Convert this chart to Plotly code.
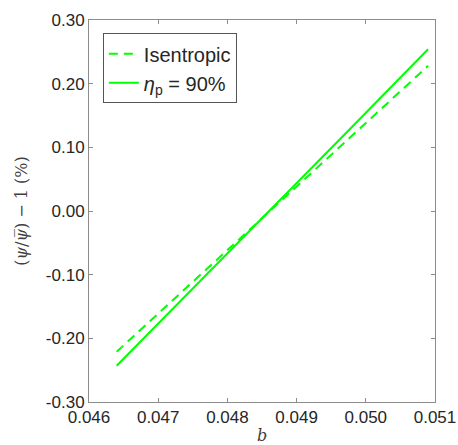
import plotly.graph_objects as go

b_vals = [0.0464, 0.0475, 0.0486, 0.0497, 0.0509]
isentropic = [-0.221, -0.111, -0.001, 0.108, 0.228]
eta90 = [-0.243, -0.122, 0.000, 0.121, 0.254]

x_ticks = [0.046, 0.047, 0.048, 0.049, 0.050, 0.051]
y_ticks = [-0.30, -0.20, -0.10, 0.00, 0.10, 0.20, 0.30]

green = "#00ff00"
fig = go.Figure()
fig.add_trace(go.Scatter(x=b_vals, y=isentropic, mode="lines", name="Isentropic",
                         line=dict(color=green, width=2, dash="9px,6px")))
fig.add_trace(go.Scatter(x=b_vals, y=eta90, mode="lines", name="<i>η</i><sub>p</sub> = 90%",
                         line=dict(color=green, width=2)))

axis_common = dict(showline=True, linecolor="#8c8c8c", linewidth=1, mirror="ticks",
                   ticks="inside", ticklen=4, tickcolor="#8c8c8c", showgrid=False,
                   zeroline=False, automargin=False,
                   tickfont=dict(family="Liberation Sans, Arial", size=17, color="#262626"))

fig.update_layout(
    width=458, height=445,
    margin=dict(l=89, r=23, t=20, b=43),
    paper_bgcolor="white", plot_bgcolor="white",
    showlegend=True,
    legend=dict(x=0.04, y=0.965, xanchor="left", yanchor="top",
                bordercolor="#555555", borderwidth=1, bgcolor="white",
                font=dict(family="Liberation Sans, Arial", size=20, color="#262626"),
                tracegroupgap=0, itemwidth=30),
    xaxis=dict(range=[0.046, 0.051], tickvals=x_ticks,
               ticktext=[f"{v:.3f}" for v in x_ticks],
               title=dict(text="<i>b</i>", standoff=12,
                          font=dict(family="DejaVu Serif", size=16, color="#404040")),
               **axis_common),
    yaxis=dict(range=[-0.30, 0.30], tickvals=y_ticks,
               ticktext=[f"{v:.2f}" for v in y_ticks],
               title=dict(text="(<i>ψ</i>/<i>ψ\u0305</i>) − 1 (%)", standoff=14,
                          font=dict(family="DejaVu Serif", size=16, color="#404040")),
               **axis_common),
)

fig.write_html("out.html")
